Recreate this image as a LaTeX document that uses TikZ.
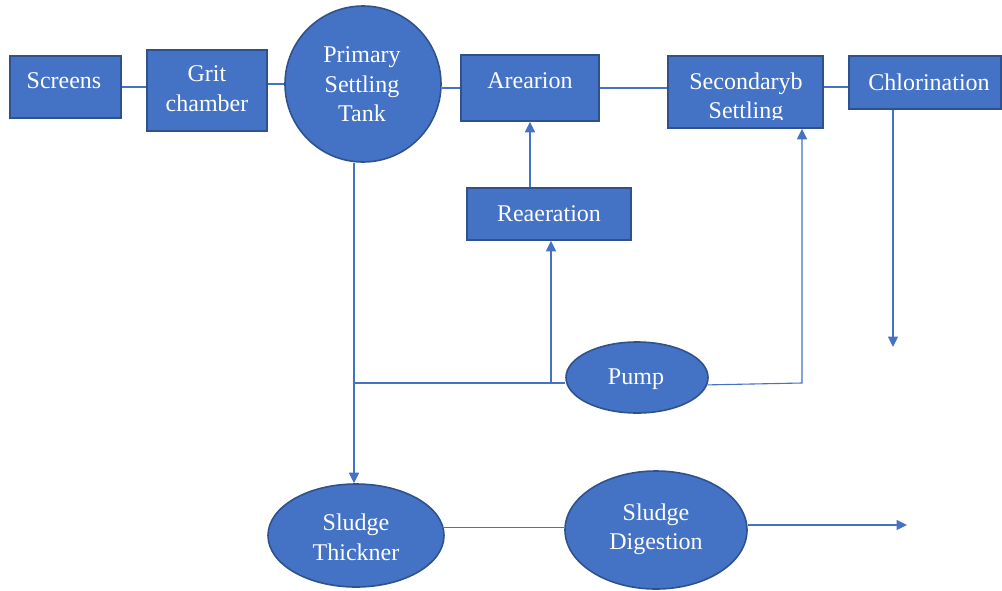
\documentclass[tikz,border=0pt]{standalone}
\usepackage{fontspec}
\setmainfont{Liberation Serif}
\usetikzlibrary{shapes.geometric,arrows.meta}
\definecolor{unitfill}{HTML}{4472C4}
\definecolor{unitedge}{HTML}{2F528F}
\definecolor{pipe}{HTML}{4472C4}

\begin{document}
\begin{tikzpicture}[x=1pt,y=-1pt,
  unit/.style={draw=unitedge,fill=unitfill,line width=1.6pt,inner sep=0pt},
  tank/.style={unit,rectangle,minimum width=#1},
  tank/.default=100,
  vessel/.style={unit,ellipse},
  lbl/.style={text=white,align=center,inner sep=0pt,
    font=\fontsize{24}{29.5}\selectfont},
  pipeline/.style={draw=pipe,line width=1.1pt},
  flow/.style={pipeline,-{Triangle[width=10pt,length=10.5pt]}}
]
\useasboundingbox (0,0) rectangle (1002,590);

% treatment units
\node[tank=111,minimum height=62] (screens) at (65.5,87) {};
\node[tank=120,minimum height=81] (grit) at (207,90.5) {};
\node[unit,circle,minimum size=156] (primary) at (363,84) {};
\node[tank=138,minimum height=66] (arearion) at (530,88) {};
\node[tank=155,minimum height=72] (secondary) at (745.5,92) {};
\node[tank=152,minimum height=53] (chlorination) at (925,82.5) {};
\node[tank=164,minimum height=52] (reaeration) at (549,214) {};
\node[vessel,minimum width=142,minimum height=71] (pump) at (637,377.5) {};
\node[vessel,minimum width=176,minimum height=103] (thickner) at (356,535.5) {};
\node[vessel,minimum width=182,minimum height=118] (digestion) at (656,530) {};

% labels
\node[lbl] (l-screens) at (64,80.3) {Screens};
\node[lbl] (l-grit) at (207,88.5) {Grit\\chamber};
\node[lbl] (l-primary) at (362,84.5) {Primary\\Settling\\Tank};
\node[lbl] (l-arearion) at (530,81) {Arearion};
\begin{scope}
  \clip (668,50) rectangle (823,119.5);
  \node[lbl] (l-secondary) at (746,98.3) {Secondaryb\\Settling};
\end{scope}
\node[lbl] (l-chlorination) at (929,82) {Chlorination};
\node[lbl] (l-reaeration) at (549,213.5) {Reaeration};
\node[lbl] (l-pump) at (636,379) {Pump};
\node[lbl] (l-thickner) at (356,537.5) {Sludge\\Thickner};
\node[lbl] (l-digestion) at (656,529.4) {Sludge\\Digestion};

% junctions and free ends
\coordinate (split) at (354,383);
\coordinate (reaup) at (551,383);
\coordinate (ret) at (802,383);
\coordinate (chlout) at (893,347);
\coordinate (sludgeout) at (907,525);

% main flow line
\draw[pipeline] (screens.east) -- (screens.east -| grit.west);
\draw[pipeline] (primary.west) -- (primary.west -| grit.east);
\draw[pipeline] (arearion.west) -- (arearion.west -| primary.east);
\draw[pipeline] (arearion.east) -- (arearion.east -| secondary.west);
\draw[pipeline] ([yshift=5pt]secondary.east) -- ([yshift=5pt]secondary.east -| chlorination.west);
\draw[flow] (chlout |- chlorination.south) -- (chlout);

% sludge and return lines
\draw[flow] (split |- primary.south) -- (split |- thickner.north);
\draw[pipeline] (split) -- (split -| pump.west);
\draw[flow] (reaup) -- (reaup |- reaeration.south);
\draw[flow] (arearion.south |- reaeration.north) -- (arearion.south);
\draw[flow] (pump.-6) -- (ret) -- (ret |- secondary.south);
\draw[pipeline] (thickner.5) -- (thickner.5 -| digestion.west);
\draw[flow] (digestion.east |- sludgeout) -- (sludgeout);
\end{tikzpicture}
\end{document}
